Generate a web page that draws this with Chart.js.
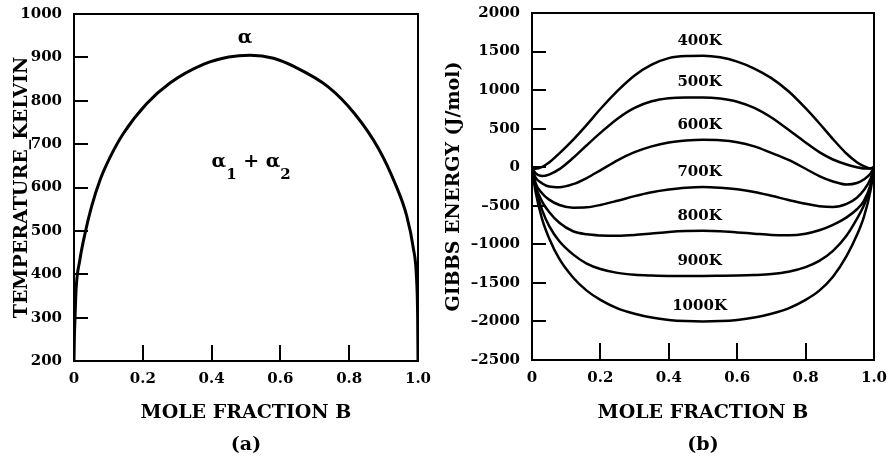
<!DOCTYPE html>
<html>
<head>
<meta charset="utf-8">
<script src="https://cdn.jsdelivr.net/npm/chart.js@4.4.1/dist/chart.umd.min.js"></script>
<style>
  html, body { margin: 0; padding: 0; background: #fff; }
  .stage { position: absolute; top: 0; }
  #left { left: 0; }
  #right { left: 440px; }
</style>
</head>
<body>
<div class="stage" id="left"><canvas id="gap" width="440" height="466"></canvas></div>
<div class="stage" id="right"><canvas id="gibbs" width="452" height="466"></canvas></div>
<script>
// (a) miscibility gap
const gapX = [0, 0.001, 0.003, 0.006, 0.017, 0.032, 0.051, 0.076, 0.105, 0.143, 0.211, 0.279, 0.376, 0.45, 0.512, 0.58, 0.642, 0.739, 0.817, 0.885, 0.933, 0.967, 0.986, 0.996, 0.999, 1];
const gapT = [200, 250, 300, 364, 433, 494, 556, 618, 670, 724, 793, 841, 884, 901, 905, 898, 878, 832, 769, 690, 610, 535, 462, 387, 300, 200];

// (b) Gibbs energy of mixing at each temperature
const moleFraction = [0, 0.01, 0.03, 0.05, 0.08, 0.12, 0.16, 0.2, 0.25, 0.3, 0.35, 0.4, 0.45, 0.5, 0.55, 0.6, 0.65, 0.7, 0.75, 0.8, 0.84, 0.88, 0.92, 0.95, 0.97, 0.99, 1];
const tempLabels = ['400K', '500K', '600K', '700K', '800K', '900K', '1000K'];
const g400 = [0, -20, 5, 60, 180, 355, 550, 755, 990, 1190, 1330, 1415, 1442, 1445, 1425, 1370, 1280, 1155, 985, 765, 570, 365, 175, 65, 15, -15, 0];
const g500 = [0, -75, -115, -95, -25, 120, 285, 445, 630, 770, 855, 895, 905, 905, 890, 850, 770, 645, 485, 320, 195, 100, 35, 0, -15, -15, 0];
const g600 = [0, -130, -210, -250, -260, -220, -140, -40, 90, 195, 270, 320, 345, 355, 350, 325, 270, 185, 95, -20, -115, -185, -225, -205, -160, -80, 0];
const g700 = [0, -200, -340, -420, -490, -525, -520, -490, -435, -375, -325, -290, -265, -255, -265, -285, -320, -370, -425, -475, -505, -515, -475, -395, -300, -150, 0];
const g800 = [0, -230, -450, -580, -720, -830, -870, -885, -890, -880, -860, -840, -828, -825, -830, -845, -862, -878, -882, -862, -818, -748, -650, -545, -440, -225, 0];
const g900 = [0, -260, -560, -760, -960, -1130, -1250, -1320, -1370, -1395, -1405, -1410, -1410, -1410, -1408, -1405, -1398, -1385, -1355, -1295, -1215, -1085, -885, -670, -500, -250, 0];
const g1000 = [0, -310, -680, -920, -1190, -1430, -1600, -1720, -1830, -1900, -1950, -1980, -1995, -2000, -1995, -1980, -1950, -1900, -1830, -1720, -1600, -1420, -1150, -880, -650, -300, 0];
const gibbsSeries = [g400, g500, g600, g700, g800, g900, g1000];

const serif = '"DejaVu Serif", "Liberation Serif", serif';
const tickFont = { family: serif, size: 15, weight: 'bold' };
const titleFont = { family: serif, size: 19, weight: 'bold', lineHeight: 1.2 };
Chart.defaults.color = '#000';

const fraction = (v) => (v === 0 ? '0' : v.toFixed(1));

// frame round the plot and short ticks pointing inwards
const frame = {
  id: 'frame',
  afterDatasetsDraw(chart, args, opts) {
    const { ctx, chartArea: a, scales: { x, y } } = chart;
    ctx.save();
    ctx.strokeStyle = '#000';
    ctx.lineWidth = 2;
    ctx.strokeRect(a.left, a.top, a.width, a.height);
    ctx.beginPath();
    y.ticks.forEach((t) => {
      if (t.value <= y.min || t.value >= y.max) return;
      const py = Math.round(y.getPixelForValue(t.value));
      ctx.moveTo(a.left, py);
      ctx.lineTo(a.left + opts.yTick, py);
    });
    x.ticks.forEach((t) => {
      if (t.value <= x.min || t.value >= x.max) return;
      const px = Math.round(x.getPixelForValue(t.value));
      ctx.moveTo(px, a.bottom);
      ctx.lineTo(px, a.bottom - opts.xTick);
    });
    ctx.stroke();
    ctx.restore();
  },
};

function scalesFor(yMin, yMax, yStep, yTitle, yWidth, yTitlePad, xHeight, yFormat) {
  return {
    x: {
      type: 'linear', min: 0, max: 1,
      grid: { display: false, drawTicks: false }, border: { display: false },
      ticks: { stepSize: 0.2, padding: 9, font: tickFont, callback: fraction, maxRotation: 0 },
      title: { display: true, text: ['MOLE FRACTION B', ''], font: { ...titleFont, lineHeight: 1.68 }, padding: { top: 0, bottom: 0 } },
      afterFit: (s) => { s.height = xHeight; s.paddingLeft = 0; s.paddingRight = 0; },
    },
    y: {
      min: yMin, max: yMax,
      grid: { display: false, drawTicks: false }, border: { display: false },
      ticks: { stepSize: yStep, padding: 12, font: tickFont, callback: yFormat },
      title: { display: true, text: yTitle, font: titleFont, padding: { top: yTitlePad, bottom: 0 } },
      afterFit: (s) => { s.width = yWidth; s.paddingTop = 0; s.paddingBottom = 0; },
    },
  };
}

const caption = {
  id: 'caption',
  afterDraw(chart, args, opts) {
    const { ctx, chartArea: a } = chart;
    ctx.save();
    ctx.font = `bold 19px ${serif}`;
    ctx.fillStyle = '#000';
    ctx.textAlign = 'center';
    ctx.textBaseline = 'middle';
    ctx.fillText(opts.text, (a.left + a.right) / 2, opts.y);
    ctx.restore();
  },
};

// phase labels of (a), written with a lowered subscript
const phaseText = {
  id: 'phaseText',
  afterDatasetsDraw(chart, args, opts) {
    const { ctx, scales: { x, y } } = chart;
    ctx.save();
    ctx.fillStyle = '#000';
    ctx.textBaseline = 'alphabetic';
    opts.items.forEach((item) => {
      const parts = item.parts.map((p) => ({ ...p, font: p.sub ? `bold 15px ${serif}` : `bold 19px ${serif}` }));
      let width = 0;
      parts.forEach((p) => { ctx.font = p.font; p.w = ctx.measureText(p.t).width; width += p.w; });
      let px = x.getPixelForValue(item.x) - width / 2;
      const base = y.getPixelForValue(item.y);
      parts.forEach((p) => {
        ctx.font = p.font;
        ctx.fillText(p.t, px, p.sub ? base + 12 : base);
        px += p.w;
      });
    });
    ctx.restore();
  },
};

new Chart(document.getElementById('gap'), {
  type: 'scatter',
  data: {
    datasets: [{
      data: gapX.map((v, i) => ({ x: v, y: gapT[i] })),
      showLine: true, borderColor: '#000', borderWidth: 3, pointRadius: 0,
      cubicInterpolationMode: 'monotone',
    }],
  },
  options: {
    responsive: false, animation: false, events: [],
    layout: { padding: { top: 14, right: 22, bottom: 5, left: 0 } },
    scales: scalesFor(200, 1000, 100, 'TEMPERATURE_KELVIN', 74, 11, 100, (v) => String(v)),
    plugins: {
      legend: { display: false }, tooltip: { enabled: false },
      frame: { yTick: 14, xTick: 16 },
      caption: { text: '(a)', y: 445 },
      phaseText: {
        items: [
          { x: 0.497, y: 933, parts: [{ t: 'α' }] },
          { x: 0.515, y: 647, parts: [{ t: 'α' }, { t: '1', sub: true }, { t: ' + α' }, { t: '2', sub: true }] },
        ],
      },
    },
  },
  plugins: [frame, caption, phaseText],
});

// temperature names written just above each curve's middle
const curveNames = {
  id: 'curveNames',
  afterDatasetsDraw(chart, args, opts) {
    const { ctx, scales: { x, y } } = chart;
    const mid = moleFraction.indexOf(0.5);
    ctx.save();
    ctx.font = `bold 15px ${serif}`;
    ctx.fillStyle = '#000';
    ctx.textAlign = 'center';
    ctx.textBaseline = 'alphabetic';
    chart.data.datasets.forEach((ds) => {
      ctx.fillText(ds.label, x.getPixelForValue(opts.at), y.getPixelForValue(ds.data[mid].y) - opts.lift);
    });
    ctx.restore();
  },
};

new Chart(document.getElementById('gibbs'), {
  type: 'scatter',
  data: {
    datasets: gibbsSeries.map((series, i) => ({
      label: tempLabels[i],
      data: moleFraction.map((v, j) => ({ x: v, y: series[j] })),
      showLine: true, borderColor: '#000', borderWidth: 2.5, pointRadius: 0,
      cubicInterpolationMode: 'monotone',
    })),
  },
  options: {
    responsive: false, animation: false, events: [],
    layout: { padding: { top: 13, right: 18, bottom: 5, left: 0 } },
    scales: scalesFor(-2500, 2000, 500, 'GIBBS ENERGY (J/mol)', 92, 3, 101, (v) => (v < 0 ? '\u2013' + Math.abs(v) : String(v))),
    plugins: {
      legend: { display: false }, tooltip: { enabled: false },
      frame: { yTick: 14, xTick: 17 },
      caption: { text: '(b)', y: 445 },
      curveNames: { at: 0.49, lift: 11 },
    },
  },
  plugins: [frame, caption, curveNames],
});
</script>
</body>
</html>
